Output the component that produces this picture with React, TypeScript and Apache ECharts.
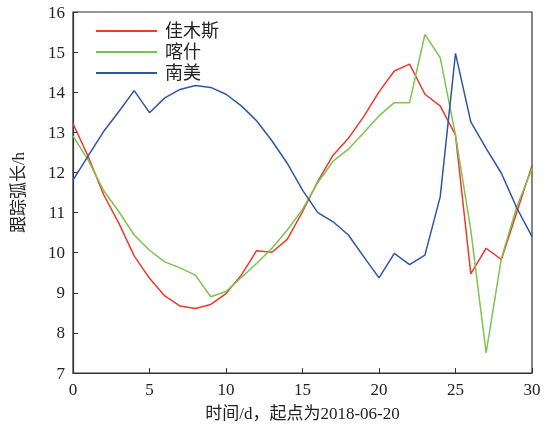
import React, { useEffect, useRef } from "react";
import * as echarts from "echarts";

const days = Array.from({ length: 31 }, (_, i) => i);
const jiamusi = [13.22, 12.39, 11.45, 10.73, 9.92, 9.36, 8.92, 8.67, 8.61, 8.71, 8.98, 9.44, 10.05, 10.01, 10.33, 11.02, 11.78, 12.43, 12.85, 13.39, 14.01, 14.53, 14.7, 13.95, 13.66, 12.93, 9.47, 10.11, 9.83, 11.0, 12.17];
const kashi = [12.91, 12.3, 11.55, 11.02, 10.44, 10.06, 9.77, 9.62, 9.44, 8.9, 9.03, 9.38, 9.73, 10.11, 10.56, 11.08, 11.75, 12.28, 12.58, 12.99, 13.41, 13.74, 13.74, 15.44, 14.86, 12.93, 10.56, 7.5, 9.86, 11.14, 12.1];
const nanmei = [11.81, 12.42, 13.02, 13.52, 14.04, 13.49, 13.86, 14.07, 14.17, 14.12, 13.95, 13.66, 13.29, 12.79, 12.23, 11.56, 11.0, 10.77, 10.44, 9.9, 9.37, 9.98, 9.7, 9.94, 11.39, 14.97, 13.26, 12.6, 11.98, 11.12, 10.4];
const seriesNames = ["佳木斯", "喀什", "南美"];
const colors = ["#f2382c", "#7dc44e", "#2e56a6"];

const FONT = "Liberation Serif, Times New Roman, Noto Sans CJK SC, serif";

export default function App() {
  const ref = useRef<HTMLDivElement>(null);
  useEffect(() => {
    if (!ref.current) return;
    const chart = echarts.init(ref.current, null, { renderer: "svg" });
    const datasets = [jiamusi, kashi, nanmei];
    chart.setOption({
      animation: false,
      textStyle: { fontFamily: FONT },
      grid: {
        left: 73,
        right: 18,
        top: 12,
        bottom: 57,
        show: true,
        borderColor: "#333",
        borderWidth: 1.2,
        backgroundColor: "transparent",
      },
      legend: {
        left: 91,
        top: 17,
        orient: "vertical",
        itemWidth: 61,
        itemHeight: 2,
        itemGap: 3,
        icon: "rect",
        textStyle: { fontSize: 18, color: "#222", fontFamily: FONT, padding: [0, 0, 0, 3] },
        data: seriesNames,
      },
      xAxis: {
        type: "value",
        min: 0,
        max: 30,
        interval: 5,
        name: "时间/d，起点为2018-06-20",
        nameLocation: "middle",
        nameGap: 32,
        nameTextStyle: { fontSize: 17, color: "#222", fontFamily: FONT },
        axisLine: { lineStyle: { color: "#333", width: 1.2 } },
        axisTick: { inside: true, length: 5, lineStyle: { color: "#333" } },
        axisLabel: { fontSize: 17, color: "#222", margin: 8, fontFamily: FONT },
        splitLine: { show: false },
      },
      yAxis: {
        type: "value",
        min: 7,
        max: 16,
        interval: 1,
        name: "跟踪弧长/h",
        nameLocation: "middle",
        nameGap: 46,
        nameRotate: 90,
        nameTextStyle: { fontSize: 17, color: "#222", fontFamily: FONT },
        axisLine: { lineStyle: { color: "#333", width: 1.2 } },
        axisTick: { inside: true, length: 5, lineStyle: { color: "#333" } },
        axisLabel: { fontSize: 17, color: "#222", margin: 8, fontFamily: FONT },
        splitLine: { show: false },
      },
      series: datasets.map((d, i) => ({
        name: seriesNames[i],
        type: "line",
        data: days.map((x, j) => [x, d[j]]),
        showSymbol: false,
        symbol: "none",
        lineStyle: { color: colors[i], width: 1.5 },
        itemStyle: { color: colors[i] },
      })),
    });
    return () => chart.dispose();
  }, []);
  return (
    <div
      ref={ref}
      style={{ position: "fixed", left: 0, top: 0, width: 550, height: 430 }}
    />
  );
}
